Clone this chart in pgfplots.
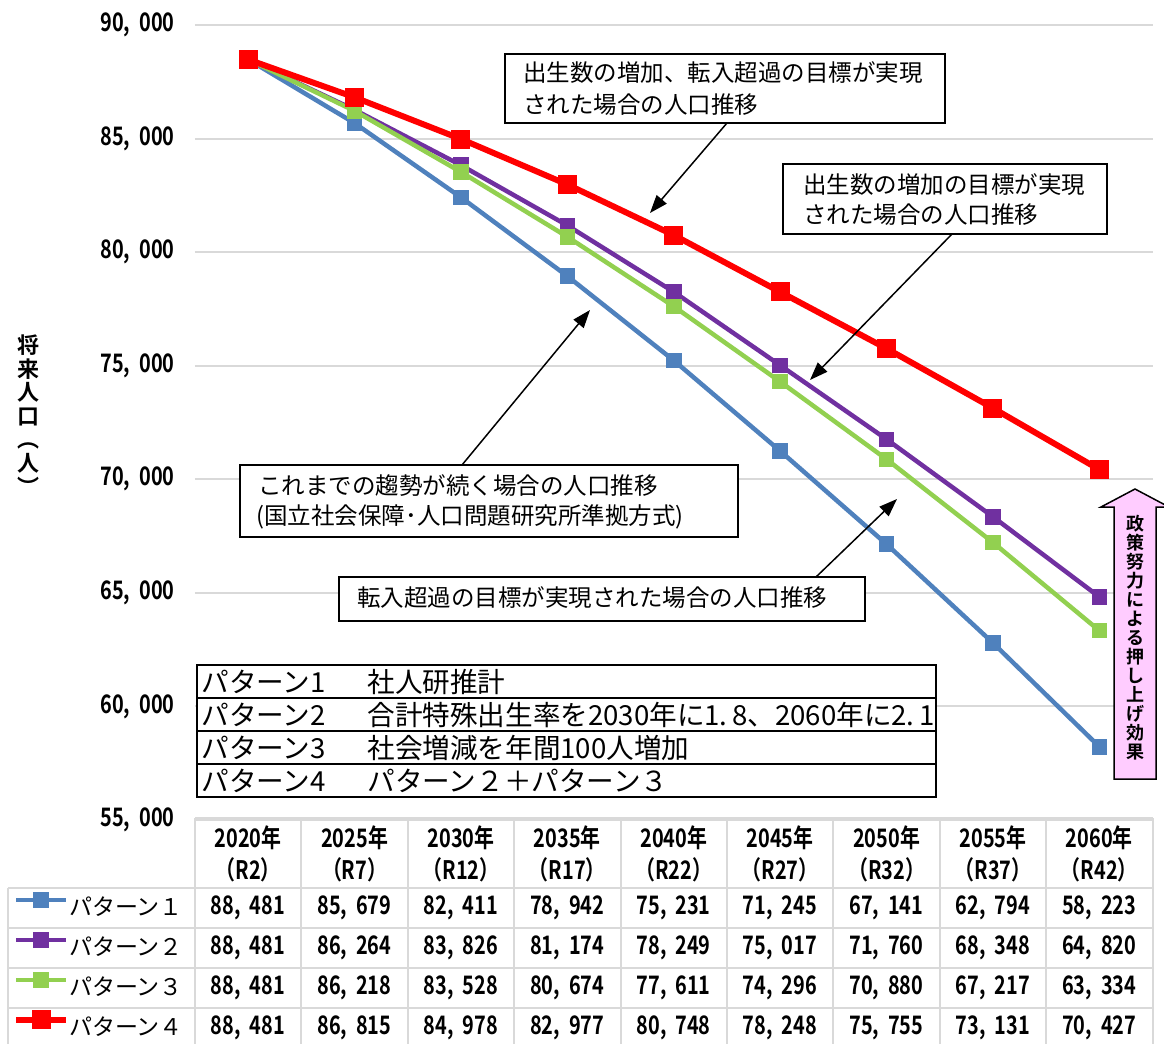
\documentclass[border=0pt]{standalone}
\usepackage{fontspec}
\setmainfont{Noto Sans CJK JP}
\newfontfamily\numf[FakeStretch=0.78]{Noto Sans CJK JP Bold}
\newfontfamily\jpb{Noto Sans CJK JP Bold}
\usepackage{pgfplots}
\usepackage{pgfplotstable}
\pgfplotsset{compat=1.18}
\usetikzlibrary{arrows.meta}

\definecolor{c1}{HTML}{4F81BD}
\definecolor{c2}{HTML}{7030A0}
\definecolor{c3}{HTML}{92D050}
\definecolor{c4}{HTML}{FF0000}
\definecolor{gridc}{HTML}{D9D9D9}
\definecolor{pinkc}{HTML}{FFCCFF}

\newcommand\nf{\numf\fontsize{12.75pt}{16pt}\selectfont}
\newcommand\jt{\fontsize{11.75pt}{14pt}\selectfont}

% population by pattern, x = 0..8 for 2020..2060
\pgfplotstableread{
x p1 p2 p3 p4
0 88481 88481 88481 88481
1 85679 86264 86218 86815
2 82411 83826 83528 84978
3 78942 81174 80674 82977
4 75231 78249 77611 80748
5 71245 75017 74296 78248
6 67141 71760 70880 75755
7 62794 68348 67217 73131
8 58223 64820 63334 70427
}\popdata

\pgfkeys{/pgf/number format/.cd, 1000 sep={,\kern4.5pt}, assume math mode=true}

\begin{document}
\begin{tikzpicture}
\useasboundingbox (0,0) rectangle (582pt,-522pt);
\begin{axis}[
  at={(97.5pt,-12.5pt)}, anchor=north west,
  width=478.8pt, height=397.5pt, scale only axis,
  xmin=-0.5, xmax=8.5, ymin=55000, ymax=90000,
  ytick={55000,60000,...,90000},
  scaled y ticks=false,
  xtick={0,...,8},
  xticklabels={{2020年\\（R2）},{2025年\\（R7）},{2030年\\（R12）},{2035年\\（R17）},{2040年\\（R22）},{2045年\\（R27）},{2050年\\（R32）},{2055年\\（R37）},{2060年\\（R42）}},
  xticklabel style={font=\nf, align=center, anchor=north, inner sep=0pt, yshift=-2.5pt},
  yticklabel style={font=\nf, anchor=east, inner sep=0pt, xshift=-10pt},
  axis line style={draw=none}, major tick style={draw=none},
  ymajorgrids, grid style={color=gridc, line width=1pt},
  legend image code/.code={\draw[mark repeat=2,mark phase=2,#1] plot coordinates {(0pt,4pt) (12.5pt,4pt) (25pt,4pt)};},
  legend style={draw=none, fill=none, inner sep=0pt, outer sep=0pt, row sep=0pt,
    at={(axis description cs:-0.19,-0.0855)}, anchor=north west,
    font=\fontsize{11.5pt}{14pt}\selectfont,
    nodes={inner sep=0pt, text height=14pt, text depth=6pt},
    /tikz/every even column/.append style={column sep=2.5pt}},
  legend cell align=left,
]
\addplot[c1, line width=2.25pt, mark=square*, mark size=2.75pt] table[x=x,y=p1] {\popdata};
\addplot[c2, line width=2.25pt, mark=square*, mark size=2.75pt] table[x=x,y=p2] {\popdata};
\addplot[c3, line width=2.25pt, mark=square*, mark size=2.75pt] table[x=x,y=p3] {\popdata};
\addplot[c4, line width=3pt, mark=square*, mark size=3.25pt] table[x=x,y=p4] {\popdata};
\legend{パターン１,パターン２,パターン３,パターン４}
\end{axis}

\begin{scope}[x=0.5pt, y=-0.5pt]
% data table grid
\draw[gridc, line width=1pt] (195,818) -- (1153,818);
\foreach \yy in {888,928,968,1008,1047} \draw[gridc, line width=1pt] (8,\yy) -- (1153,\yy);
\draw[gridc, line width=1pt] (8,888) -- (8,1050);
\foreach \k in {0,...,9} \draw[gridc, line width=1pt] ({195+106.4*\k},818) -- ({195+106.4*\k},1050);
% table values
\foreach \r in {0,...,8} {
  \foreach \c [count=\k] in {p1,p2,p3,p4} {
    \pgfplotstablegetelem{\r}{\c}\of\popdata
    \node[font=\nf, inner sep=0pt] at ({248+106.4*\r},{868+40*\k}) {\pgfmathprintnumber{\pgfplotsretval}};
  }
}

% y label
\node[font=\jpb\fontsize{11pt}{11.8pt}\selectfont, align=center, inner sep=0pt] at (29,415) {将\\来\\人\\口\\︵\\人\\︶};

% callouts
\draw[line width=0.75pt, fill=white] (505,54) rectangle (945,123);
\node[font=\jt, anchor=west, inner sep=0pt] at (523,73) {出生数の増加、転入超過の目標が実現};
\node[font=\jt, anchor=west, inner sep=0pt] at (523,105) {された場合の人口推移};
\draw[line width=0.75pt, -{Triangle[length=9pt,width=6.5pt]}] (727,123) -- (650,213);

\draw[line width=0.75pt, fill=white] (783,164) rectangle (1107,234);
\node[font=\jt, anchor=west, inner sep=0pt] at (803,185) {出生数の増加の目標が実現};
\node[font=\jt, anchor=west, inner sep=0pt] at (803,215) {された場合の人口推移};
\draw[line width=0.75pt, -{Triangle[length=9pt,width=6.5pt]}] (952,234) -- (810,380);

\draw[line width=0.75pt, fill=white] (240,465) rectangle (738,537);
\node[font=\jt, anchor=west, inner sep=0pt] at (258,486) {これまでの趨勢が続く場合の人口推移};
\node[font=\jt, anchor=west, inner sep=0pt] at (256,517) {(国立社会保障･人口問題研究所準拠方式)};
\draw[line width=0.75pt, -{Triangle[length=9pt,width=6.5pt]}] (462,465) -- (590,310);

\draw[line width=0.75pt, fill=white] (339,577) rectangle (865,621);
\node[font=\jt, anchor=west, inner sep=0pt] at (357,598) {転入超過の目標が実現された場合の人口推移};
\draw[line width=0.75pt, -{Triangle[length=9pt,width=6.5pt]}] (816,577) -- (897,499);

% pattern box
\draw[line width=1pt, fill=white] (197,665) rectangle (936,797);
\foreach \yy in {698,731,764} \draw[line width=1pt] (197,\yy) -- (936,\yy);
\begin{scope}[every node/.style={font=\fontsize{13.8pt}{16pt}\selectfont, anchor=west, inner sep=0pt}]
\node at (201,682) {パターン1}; \node at (367,682) {社人研推計};
\node at (201,715) {パターン2}; \node at (367,715) {合計特殊出生率を2030年に1.\,8、2060年に2.\,1};
\node at (201,748) {パターン3}; \node at (367,748) {社会増減を年間100人増加};
\node at (201,781) {パターン4}; \node at (367,781) {パターン２＋パターン３};
\end{scope}

% policy effect arrow
\draw[line width=0.75pt, fill=pinkc] (1114,779) -- (1114,507) -- (1101,507) -- (1135,489) -- (1169,507) -- (1156,507) -- (1156,779) -- cycle;
\node[font=\jpb\fontsize{9pt}{9.5pt}\selectfont, align=center, inner sep=0pt] at (1135,638) {政\\策\\努\\力\\に\\よ\\る\\押\\し\\上\\げ\\効\\果};
\end{scope}
\end{tikzpicture}
\end{document}
